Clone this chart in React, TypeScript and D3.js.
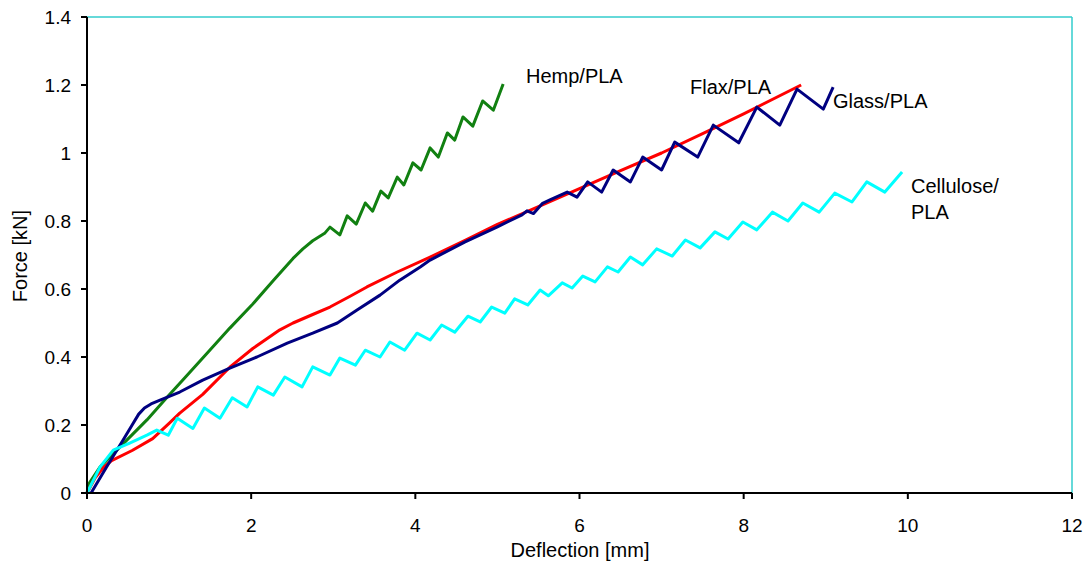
import * as d3 from "d3";

// deflection [mm], force [kN]
const hempX = [0, 0.03, 0.16, 0.4, 0.73, 0.97, 1.17, 1.46, 1.74, 2.02, 2.27, 2.51, 2.63, 2.75, 2.9, 2.96, 3.08, 3.17, 3.28, 3.39, 3.48, 3.58, 3.67, 3.78, 3.86, 3.97, 4.07, 4.18, 4.28, 4.39, 4.48, 4.58, 4.7, 4.82, 4.95, 5.07];
const hempY = [0, 0.03, 0.077, 0.135, 0.215, 0.28, 0.333, 0.41, 0.485, 0.556, 0.625, 0.69, 0.718, 0.742, 0.765, 0.782, 0.759, 0.815, 0.791, 0.853, 0.829, 0.888, 0.868, 0.929, 0.906, 0.971, 0.95, 1.015, 0.988, 1.059, 1.038, 1.106, 1.079, 1.153, 1.126, 1.203];

const flaxX = [0, 0.1, 0.2, 0.3, 0.55, 0.8, 1.0, 1.13, 1.41, 1.74, 2.02, 2.35, 2.51, 2.75, 2.96, 3.2, 3.41, 3.78, 4.18, 4.6, 5, 5.5, 6, 6.5, 7, 7.5, 8, 8.7];
const flaxY = [0, 0.045, 0.075, 0.095, 0.125, 0.16, 0.205, 0.235, 0.29, 0.37, 0.425, 0.48, 0.5, 0.525, 0.547, 0.578, 0.606, 0.65, 0.694, 0.742, 0.79, 0.842, 0.895, 0.948, 1.0, 1.057, 1.115, 1.2];

const glassX = [0.05, 0.24, 0.44, 0.55, 0.63, 0.7, 0.78, 0.89, 1.13, 1.41, 1.74, 2.07, 2.44, 2.75, 3.05, 3.29, 3.57, 3.81, 4.06, 4.18, 4.6, 5.0, 5.3, 5.36, 5.44, 5.55, 5.64, 5.85, 5.97, 6.1, 6.27, 6.41, 6.62, 6.77, 7.0, 7.16, 7.44, 7.63, 7.94, 8.16, 8.44, 8.65, 8.97, 9.09];
const glassY = [0, 0.077, 0.156, 0.2, 0.232, 0.25, 0.262, 0.273, 0.297, 0.332, 0.367, 0.4, 0.441, 0.47, 0.5, 0.538, 0.582, 0.626, 0.665, 0.685, 0.738, 0.783, 0.818, 0.83, 0.822, 0.852, 0.862, 0.885, 0.87, 0.915, 0.885, 0.95, 0.915, 0.988, 0.95, 1.032, 0.988, 1.082, 1.03, 1.135, 1.082, 1.188, 1.129, 1.194];

const celluloseX = [0, 0.16, 0.32, 0.52, 0.73, 0.85, 0.99, 1.1, 1.29, 1.43, 1.62, 1.77, 1.95, 2.08, 2.27, 2.41, 2.62, 2.75, 2.96, 3.08, 3.27, 3.39, 3.57, 3.69, 3.87, 4.02, 4.18, 4.32, 4.48, 4.64, 4.79, 4.93, 5.09, 5.21, 5.37, 5.52, 5.62, 5.79, 5.91, 6.04, 6.19, 6.34, 6.47, 6.62, 6.77, 6.94, 7.13, 7.29, 7.47, 7.65, 7.81, 7.99, 8.16, 8.35, 8.54, 8.72, 8.92, 9.11, 9.32, 9.5, 9.72, 9.93];
const celluloseY = [0, 0.077, 0.126, 0.147, 0.17, 0.185, 0.17, 0.22, 0.19, 0.25, 0.22, 0.28, 0.253, 0.312, 0.288, 0.341, 0.312, 0.371, 0.347, 0.397, 0.376, 0.42, 0.4, 0.444, 0.42, 0.47, 0.45, 0.494, 0.473, 0.52, 0.503, 0.547, 0.529, 0.571, 0.553, 0.597, 0.58, 0.618, 0.603, 0.638, 0.621, 0.665, 0.65, 0.694, 0.671, 0.718, 0.697, 0.744, 0.721, 0.768, 0.747, 0.797, 0.774, 0.826, 0.8, 0.853, 0.826, 0.882, 0.856, 0.915, 0.885, 0.944];

const xTicks = [0, 2, 4, 6, 8, 10, 12];
const yTicks = [0, 0.2, 0.4, 0.6, 0.8, 1, 1.2, 1.4];

const series = [
  { name: "Hemp", xs: hempX, ys: hempY, color: "#118011" },
  { name: "Flax", xs: flaxX, ys: flaxY, color: "#ff0000" },
  { name: "Glass", xs: glassX, ys: glassY, color: "#000080" },
  { name: "Cellulose", xs: celluloseX, ys: celluloseY, color: "#00ffff" },
];

export default function App() {
  const W = 1089;
  const H = 565;
  const left = 87, right = 1072, top = 17, bottom = 493;
  const x = d3.scaleLinear().domain([0, 12]).range([left, right]);
  const y = d3.scaleLinear().domain([0, 1.4]).range([bottom, top]);
  const font = "'Liberation Sans', Arial, sans-serif";

  const line = d3
    .line<[number, number]>()
    .x((d) => x(d[0]))
    .y((d) => y(d[1]));

  return (
    <svg width={W} height={H} style={{ position: "absolute", left: 0, top: 0, background: "#fff" }} fontFamily={font}>
      <line x1={left} x2={right} y1={top} y2={top} stroke="#33cccc" strokeWidth={1.5} />
      <line x1={right} x2={right} y1={top} y2={bottom} stroke="#33cccc" strokeWidth={1.5} />

      {series.map((s) => (
        <path
          key={s.name}
          d={line(s.xs.map((v, i) => [v, s.ys[i]] as [number, number])) || ""}
          fill="none"
          stroke={s.color}
          strokeWidth={3}
          strokeLinejoin="round"
        />
      ))}

      <line x1={left} x2={left} y1={top} y2={bottom + 1} stroke="#000" strokeWidth={2} />
      <line x1={left} x2={right} y1={bottom} y2={bottom} stroke="#000" strokeWidth={2} />

      {yTicks.map((t) => (
        <g key={t}>
          <line x1={left - 6} x2={left} y1={y(t)} y2={y(t)} stroke="#000" strokeWidth={2} />
          <text x={left - 16} y={y(t) + 7} textAnchor="end" fontSize={19} fill="#000">
            {t}
          </text>
        </g>
      ))}
      {xTicks.map((t) => (
        <g key={t}>
          <line x1={x(t)} x2={x(t)} y1={bottom} y2={bottom + 6} stroke="#000" strokeWidth={2} />
          <text x={x(t)} y={532} textAnchor="middle" fontSize={19} fill="#000">
            {t}
          </text>
        </g>
      ))}

      <text x={580} y={557} textAnchor="middle" fontSize={20} fill="#000">
        Deflection [mm]
      </text>
      <text transform="translate(27,256) rotate(-90)" textAnchor="middle" fontSize={20} fill="#000">
        Force [kN]
      </text>

      <text x={526} y={83} fontSize={20} fill="#000">Hemp/PLA</text>
      <text x={690} y={94} fontSize={20} fill="#000">Flax/PLA</text>
      <text x={833} y={108} fontSize={20} fill="#000">Glass/PLA</text>
      <text x={911} y={193} fontSize={20} fill="#000">Cellulose/</text>
      <text x={911} y={219} fontSize={20} fill="#000">PLA</text>
    </svg>
  );
}
